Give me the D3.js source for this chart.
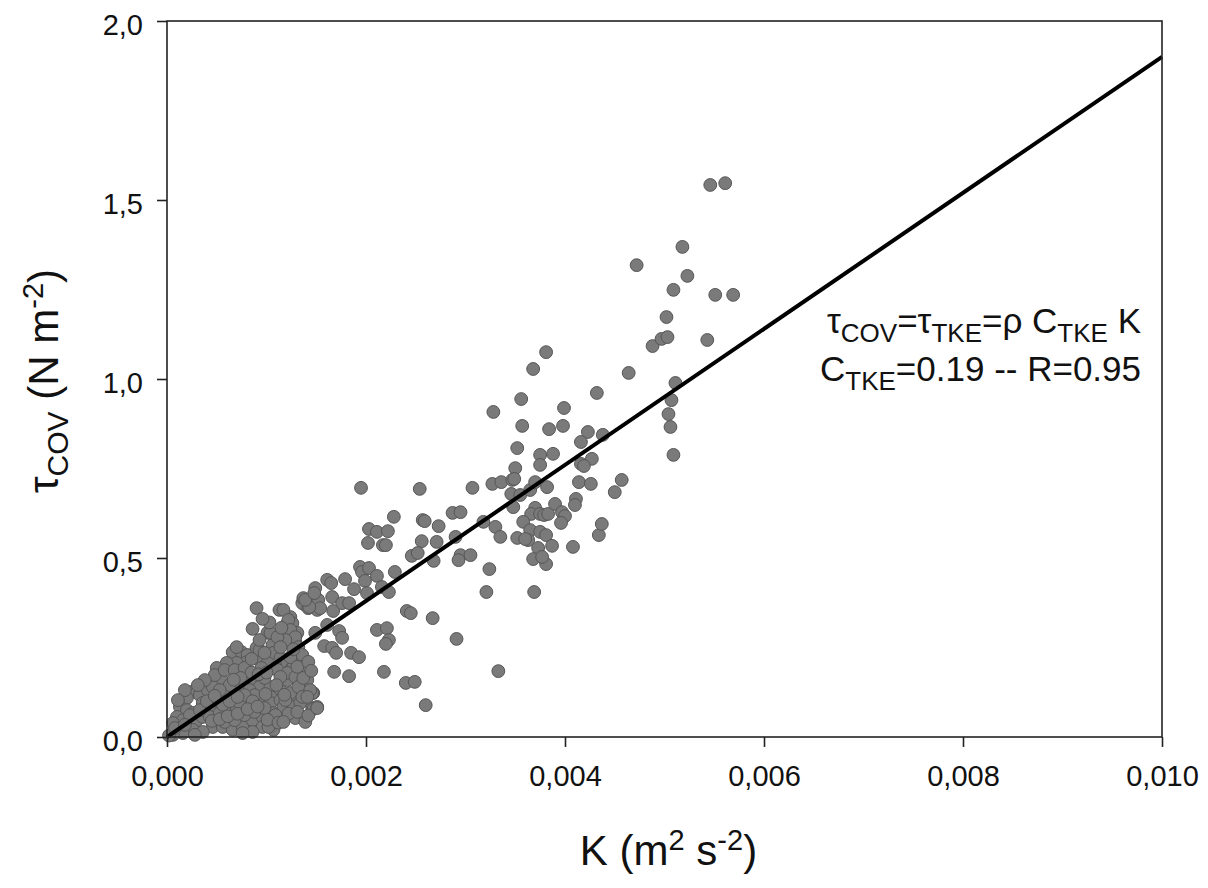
<!DOCTYPE html>
<html>
<head>
<meta charset="utf-8">
<script src="https://d3js.org/d3.v7.min.js"></script>
<style>
  body { margin: 0; background: #fff; }
  svg { display: block; }
  text { font-family: "Liberation Sans", Arial, sans-serif; fill: #111; }
</style>
</head>
<body>
<svg width="1208" height="888"></svg>
<script>
// axis ticks
const kTicks = [0, 0.002, 0.004, 0.006, 0.008, 0.010];
const tauTicks = [0, 0.5, 1.0, 1.5, 2.0];

const fitSlope = 190;
const fitRange = [0, 0.010];
const fitText = ["C", "TKE", "=0.19 -- R=0.95"];

// measured points [K (m2 s-2), tau_cov (N m-2)]
const upperPoints = [
  [0.00546,1.542],[0.00561,1.547],[0.00518,1.369],[0.00472,1.318],[0.00523,1.288],
  [0.00509,1.249],[0.00551,1.235],[0.00569,1.235],[0.00502,1.173],[0.00488,1.092],
  [0.00497,1.112],[0.00503,1.117],[0.00543,1.109],[0.00464,1.017],[0.00511,0.989],
  [0.00507,0.941],[0.00504,0.902],[0.00506,0.866],[0.00509,0.788],[0.00432,0.961],
  [0.00438,0.844],[0.00381,1.075],[0.00368,1.028],[0.00356,0.944],[0.00328,0.908],
  [0.00357,0.869],[0.00399,0.919],[0.00398,0.869],[0.00384,0.860],[0.00423,0.852],
  [0.00416,0.824],[0.00352,0.807],[0.00375,0.788],[0.00388,0.791],[0.00375,0.760],
  [0.00350,0.751],[0.00427,0.777],[0.00416,0.763],[0.00419,0.757],[0.00457,0.718],
  [0.00450,0.684],[0.00414,0.712],[0.00426,0.707],[0.00327,0.707],[0.00336,0.712],
  [0.00347,0.718],[0.00349,0.721],[0.00307,0.696],[0.00254,0.693],[0.00195,0.696],
  [0.00346,0.679],[0.00355,0.676],[0.00365,0.690],[0.00370,0.712],[0.00382,0.698],
  [0.00348,0.642],[0.00411,0.665],[0.00410,0.648],[0.00370,0.640],[0.00366,0.623],
  [0.00375,0.623],[0.00379,0.620],[0.00383,0.623],[0.00390,0.651],[0.00397,0.628],
  [0.00400,0.617],[0.00396,0.598],[0.00358,0.601],[0.00365,0.578],[0.00363,0.550],
  [0.00352,0.556],[0.00360,0.553],[0.00375,0.573],[0.00381,0.564],[0.00373,0.528],
  [0.00330,0.587],[0.00335,0.559],[0.00318,0.601],[0.00287,0.626],[0.00295,0.628],
  [0.00257,0.606],[0.00259,0.603],[0.00273,0.589],[0.00228,0.615],[0.00203,0.581],
  [0.00211,0.573],[0.00222,0.575],[0.00202,0.542],[0.00217,0.536],[0.00220,0.536],
  [0.00256,0.547],[0.00271,0.545],[0.00290,0.559],[0.00246,0.506],[0.00252,0.514],
  [0.00268,0.492],[0.00295,0.508],[0.00305,0.508],[0.00293,0.494],[0.00324,0.469],
  [0.00321,0.405],[0.00369,0.405],[0.00434,0.564],[0.00437,0.595],[0.00408,0.531],
  [0.00381,0.483],[0.00368,0.497],[0.00377,0.503],[0.00387,0.534]
];

const midPoints = [
  [0.00194,0.475],[0.00196,0.461],[0.00203,0.472],[0.00199,0.436],[0.00211,0.450],
  [0.00179,0.441],[0.00229,0.461],[0.00188,0.413],[0.00201,0.402],[0.00216,0.419],
  [0.00223,0.405],[0.00161,0.439],[0.00165,0.430],[0.00149,0.416],[0.00137,0.388],
  [0.00142,0.360],[0.00152,0.383],[0.00154,0.360],[0.00166,0.391],[0.00167,0.352],
  [0.00176,0.374],[0.00183,0.374],[0.00241,0.352],[0.00245,0.346],[0.00267,0.332],
  [0.00161,0.313],[0.00149,0.291],[0.00173,0.296],[0.00176,0.277],[0.00158,0.254],
  [0.00166,0.249],[0.00170,0.235],[0.00185,0.235],[0.00193,0.223],[0.00211,0.299],
  [0.00221,0.304],[0.00223,0.271],[0.00220,0.260],[0.00291,0.274],[0.00333,0.184],
  [0.00168,0.182],[0.00183,0.170],[0.00218,0.182],[0.00240,0.151],[0.00249,0.154],
  [0.00260,0.089],[0.00151,0.081],[0.00117,0.042],[0.00143,0.363],[0.00139,0.383],
  [0.00148,0.402]
];

const densePoints = [
  [0.00090,0.360],[0.00113,0.355],[0.00086,0.302],[0.00124,0.335],[0.00121,0.318],
  [0.00126,0.318],[0.00139,0.369],[0.00147,0.383],[0.00151,0.355],[0.00136,0.374],
  [0.00101,0.291],[0.00109,0.277],[0.00106,0.257],[0.00131,0.291],[0.00129,0.265],
  [0.00066,0.237],[0.00075,0.237],[0.00081,0.229],[0.00090,0.249],[0.00093,0.215],
  [0.00080,0.209],[0.00070,0.207],[0.00060,0.207],[0.00050,0.193],[0.00055,0.159],
  [0.00107,0.235],[0.00114,0.221],[0.00121,0.207],[0.00101,0.207],[0.00111,0.187],
  [0.00124,0.187],[0.00134,0.215],[0.00137,0.179],[0.00131,0.159],[0.00025,0.126],
  [0.00020,0.109],[0.00033,0.117],[0.00041,0.131],[0.00046,0.140],[0.00036,0.095],
  [0.00043,0.081],[0.00050,0.103],[0.00060,0.103],[0.00066,0.123],[0.00073,0.140],
  [0.00081,0.151],[0.00088,0.159],[0.00093,0.140],[0.00104,0.140],[0.00114,0.131],
  [0.00121,0.159],[0.00127,0.112],[0.00104,0.112],[0.00013,0.084],[0.00020,0.075],
  [0.00026,0.067],[0.00010,0.056],[0.00016,0.047],[0.00006,0.039],[0.00030,0.047],
  [0.00036,0.056],[0.00043,0.056],[0.00053,0.067],[0.00063,0.075],[0.00070,0.084],
  [0.00080,0.095],[0.00093,0.103],[0.00104,0.095],[0.00114,0.103],[0.00124,0.123],
  [0.00137,0.131],[0.00046,0.028],[0.00056,0.028],[0.00066,0.020],[0.00076,0.028],
  [0.00086,0.047],[0.00096,0.056],[0.00107,0.067],[0.00117,0.084],[0.00127,0.084],
  [0.00134,0.095],[0.00147,0.123],[0.00146,0.081],[0.00117,0.047],[0.00096,0.028],
  [0.00107,0.020],[0.00086,0.014],[0.00076,0.011],[0.00026,0.020],[0.00036,0.014],
  [0.00016,0.011],[0.00006,0.006],[0.00002,0.004],[0.00117,0.355],[0.00122,0.327],
  [0.00124,0.299],[0.00129,0.279],[0.00119,0.271],[0.00132,0.251],[0.00136,0.229],
  [0.00127,0.196],[0.00137,0.196],[0.00121,0.179],[0.00129,0.168],[0.00141,0.159],
  [0.00132,0.140],[0.00146,0.123],[0.00136,0.112],[0.00147,0.078],[0.00119,0.103],
  [0.00104,0.291],[0.00093,0.243],[0.00111,0.279],[0.00114,0.251],[0.00124,0.223],
  [0.00131,0.196],[0.00137,0.165],[0.00144,0.131],[0.00151,0.084],[0.00141,0.112],
  [0.00114,0.168],[0.00080,0.168],[0.00060,0.123],[0.00073,0.095],[0.00102,0.028],
  [0.00048,0.173],[0.00058,0.187],[0.00068,0.187],[0.00078,0.193],[0.00095,0.193],
  [0.00063,0.145],[0.00053,0.131],[0.00083,0.131],[0.00098,0.165],[0.00038,0.159],
  [0.00031,0.145],[0.00018,0.131],[0.00011,0.103],[0.00023,0.061],[0.00033,0.075],
  [0.00058,0.042],[0.00068,0.047],[0.00078,0.061],[0.00088,0.070],[0.00098,0.081],
  [0.00109,0.061],[0.00129,0.053],[0.00139,0.042],[0.00088,0.117],[0.00078,0.117],
  [0.00008,0.025],[0.00018,0.034],[0.00028,0.006],[0.00093,0.271],[0.00070,0.251],
  [0.00040,0.100],[0.00048,0.115],[0.00056,0.090],[0.00063,0.100],[0.00071,0.112],
  [0.00086,0.100],[0.00099,0.120],[0.00110,0.145],[0.00118,0.118],[0.00085,0.180],
  [0.00092,0.175],[0.00100,0.180],[0.00074,0.165],[0.00067,0.160],[0.00045,0.045],
  [0.00053,0.050],[0.00061,0.058],[0.00071,0.065],[0.00081,0.078],[0.00091,0.085],
  [0.00101,0.048],[0.00112,0.040],[0.00122,0.065],[0.00131,0.070],[0.00142,0.060],
  [0.00085,0.218],[0.00098,0.235],[0.00115,0.305],[0.00103,0.320],[0.00096,0.330],
  [0.00127,0.245],[0.00142,0.210],[0.00145,0.185]
];

let svg = d3.select("svg"),
    width = +svg.attr("width"),
    height = +svg.attr("height");

const margin = {top: 21, right: 46, bottom: 151, left: 167};

let x = d3.scaleLinear()
    .domain([kTicks[0], kTicks[kTicks.length - 1]])
    .range([margin.left, width - margin.right]);

let y = d3.scaleLinear()
    .domain([tauTicks[0], tauTicks[tauTicks.length - 1]])
    .range([height - margin.bottom, margin.top]);

// comma as decimal separator
const locale = d3.formatLocale({decimal: ",", thousands: ".", grouping: [3], currency: ["", ""]});

let points = densePoints.concat(midPoints, upperPoints);

svg.append("g")
  .selectAll("circle")
  .data(points)
  .enter().append("circle")
    .attr("cx", d => x(d[0]))
    .attr("cy", d => y(d[1]))
    .attr("r", 6.4)
    .attr("fill", "#7a7a7a")
    .attr("stroke", "#565656")
    .attr("stroke-width", 1);

// regression line
let line = d3.line()
  .x(d => x(d))
  .y(d => y(fitSlope * d));

svg.append("path")
  .datum(fitRange)
  .attr("d", line)
  .attr("fill", "none")
  .attr("stroke", "#000")
  .attr("stroke-width", 4);

// frame
svg.append("rect")
  .attr("x", x.range()[0])
  .attr("y", y.range()[1])
  .attr("width", x.range()[1] - x.range()[0])
  .attr("height", y.range()[0] - y.range()[1])
  .attr("fill", "none")
  .attr("stroke", "#222")
  .attr("stroke-width", 1.6);

let xAxis = svg.append("g")
  .attr("transform", `translate(0,${y.range()[0]})`)
  .call(d3.axisBottom(x)
    .tickValues(kTicks)
    .tickSize(10)
    .tickSizeOuter(0)
    .tickPadding(18)
    .tickFormat(locale.format(".3f")));

let yAxis = svg.append("g")
  .attr("transform", `translate(${x.range()[0]},0)`)
  .call(d3.axisLeft(y)
    .tickValues(tauTicks)
    .tickSize(10)
    .tickSizeOuter(0)
    .tickPadding(14)
    .tickFormat(locale.format(".1f")));

[xAxis, yAxis].forEach(g => {
  g.select(".domain").remove();
  g.selectAll(".tick line").attr("stroke", "#222").attr("stroke-width", 1.6);
  g.selectAll(".tick text")
    .style("font-size", "29px")
    .style("font-family", "'Liberation Sans', Arial, sans-serif")
    .attr("fill", "#111");
});
yAxis.selectAll(".tick text").attr("dy", "0.45em");

// axis titles
let midX = (x.range()[0] + x.range()[1]) / 2;
let xTitle = svg.append("text")
  .attr("x", midX + 4)
  .attr("y", 865)
  .attr("text-anchor", "middle")
  .style("font-size", "42px");
xTitle.append("tspan").text("K (m");
xTitle.append("tspan").attr("dy", -15).style("font-size", "29px").text("2");
xTitle.append("tspan").attr("dy", 15).text(" s");
xTitle.append("tspan").attr("dy", -15).style("font-size", "29px").text("-2");
xTitle.append("tspan").attr("dy", 15).text(")");

let midY = (y.range()[0] + y.range()[1]) / 2;
let yTitle = svg.append("text")
  .attr("transform", `translate(58,${midY + 2}) rotate(-90)`)
  .attr("text-anchor", "middle")
  .style("font-size", "42px");
yTitle.append("tspan").text("\u03c4");
yTitle.append("tspan").attr("dy", 10).style("font-size", "30px").text("COV");
yTitle.append("tspan").attr("dy", -10).text(" (N m");
yTitle.append("tspan").attr("dy", -15).style("font-size", "29px").text("-2");
yTitle.append("tspan").attr("dy", 15).text(")");

// annotation
let note1 = svg.append("text")
  .attr("x", 1141)
  .attr("y", 333)
  .attr("text-anchor", "end")
  .style("font-size", "35px");
note1.append("tspan").text("\u03c4");
note1.append("tspan").attr("dy", 9).style("font-size", "26px").text("COV");
note1.append("tspan").attr("dy", -9).text("=\u03c4");
note1.append("tspan").attr("dy", 9).style("font-size", "26px").text("TKE");
note1.append("tspan").attr("dy", -9).text("=\u03c1 C");
note1.append("tspan").attr("dy", 9).style("font-size", "26px").text("TKE");
note1.append("tspan").attr("dy", -9).text(" K");

let note2 = svg.append("text")
  .attr("x", 1141)
  .attr("y", 381)
  .attr("text-anchor", "end")
  .style("font-size", "35px");
note2.append("tspan").text(fitText[0]);
note2.append("tspan").attr("dy", 9).style("font-size", "26px").text(fitText[1]);
note2.append("tspan").attr("dy", -9).text(fitText[2]);
</script>
</body>
</html>
